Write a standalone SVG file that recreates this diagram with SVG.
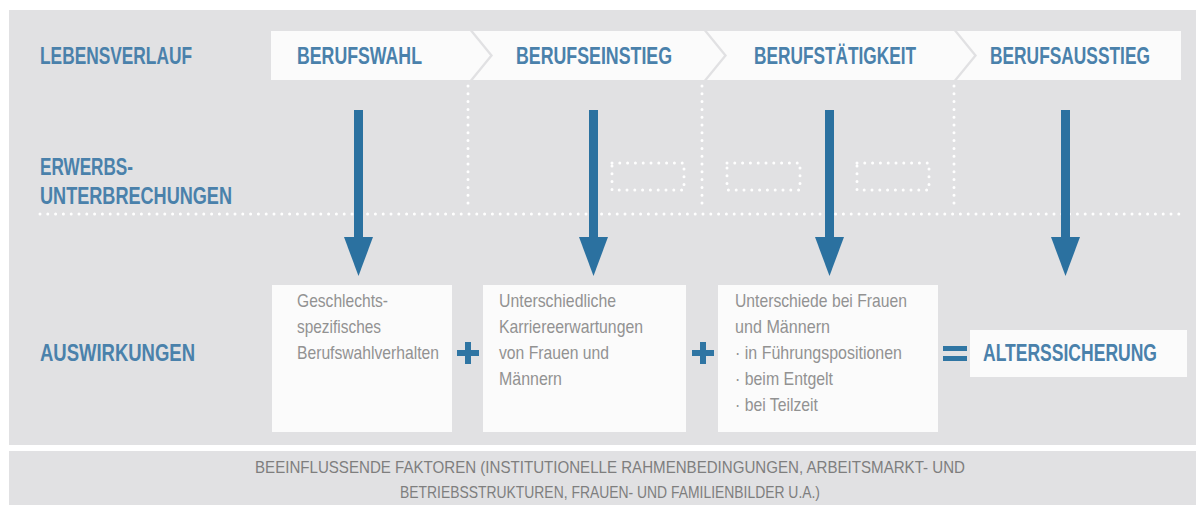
<svg xmlns="http://www.w3.org/2000/svg" width="1196" height="505" viewBox="0 0 1196 505">
<style>
.panel{fill:#e1e1e3}
.seg{fill:#fbfbfb}
.box{fill:#fbfbfb}
.head{font-family:"Liberation Sans",Arial,sans-serif;font-weight:bold;font-size:23px;fill:#4a81ab}
.body{font-family:"Liberation Sans",Arial,sans-serif;font-size:19px;fill:#929292}
.foot{font-family:"Liberation Sans",Arial,sans-serif;font-size:17px;fill:#7e7e7e}
.dots{fill:none;stroke:#ffffff;stroke-width:3;stroke-linecap:round;stroke-dasharray:0 7.8}
.arrow{fill:#2b71a0}
.op{fill:#2f75a3}
</style>
<rect width="1196" height="505" fill="#ffffff"/>
<rect class="panel" x="9" y="10" width="1187" height="435"/>
<rect class="panel" x="9" y="451" width="1187" height="54"/>

<g id="labels">
<text class="head" x="40" y="64" textLength="152" lengthAdjust="spacingAndGlyphs">LEBENSVERLAUF</text>
<text class="head" x="40" y="175" textLength="93" lengthAdjust="spacingAndGlyphs">ERWERBS-</text>
<text class="head" x="40" y="204" textLength="192" lengthAdjust="spacingAndGlyphs">UNTERBRECHUNGEN</text>
<text class="head" x="40" y="361" textLength="155" lengthAdjust="spacingAndGlyphs">AUSWIRKUNGEN</text>
</g>

<g id="seg-berufswahl">
<polygon class="seg" points="271,31 470,31 490,55.5 470,80 271,80"/>
<text class="head" x="297" y="64" textLength="125" lengthAdjust="spacingAndGlyphs">BERUFSWAHL</text>
</g>
<g id="seg-berufseinstieg">
<polygon class="seg" points="473,31 704,31 724,55.5 704,80 473,80 493,55.5"/>
<text class="head" x="516" y="64" textLength="156" lengthAdjust="spacingAndGlyphs">BERUFSEINSTIEG</text>
</g>
<g id="seg-berufstaetigkeit">
<polygon class="seg" points="707,31 954,31 974,55.5 954,80 707,80 727,55.5"/>
<text class="head" x="754" y="64" textLength="162" lengthAdjust="spacingAndGlyphs">BERUFSTÄTIGKEIT</text>
</g>
<g id="seg-berufsausstieg">
<polygon class="seg" points="957,31 1181,31 1181,80 957,80 977,55.5"/>
<text class="head" transform="translate(990,64) scale(0.75,1)" x="0" y="0" textLength="213.3" lengthAdjust="spacingAndGlyphs">BERUFSAUSSTIEG</text>
</g>

<g id="grid">
<line class="dots" x1="40" y1="214" x2="1180" y2="214"/>
<line class="dots" x1="468" y1="86" x2="468" y2="210"/>
<line class="dots" x1="702" y1="86" x2="702" y2="210"/>
<line class="dots" x1="954" y1="86" x2="954" y2="210"/>
</g>

<g id="interruptions">
<rect class="dots" x="612" y="163" width="72" height="27"/>
<rect class="dots" x="727" y="163" width="73" height="27"/>
<rect class="dots" x="857" y="163" width="72" height="27"/>
</g>

<g id="connectors">
<g class="arrow">
<rect x="354" y="110" width="9" height="130"/><polygon points="344,237 373,237 358.5,276"/>
<rect x="589" y="110" width="9" height="130"/><polygon points="579,237 608,237 593.5,276"/>
<rect x="825" y="110" width="9" height="130"/><polygon points="815,237 844,237 829.5,276"/>
<rect x="1061" y="110" width="9" height="130"/><polygon points="1051,237 1080,237 1065.5,276"/>
</g>
</g>

<g id="box-berufswahl">
<rect class="box" x="272" y="285" width="180" height="147"/>
<text class="body" x="297" y="307" textLength="91" lengthAdjust="spacingAndGlyphs">Geschlechts-</text>
<text class="body" x="297" y="333" textLength="84" lengthAdjust="spacingAndGlyphs">spezifisches</text>
<text class="body" x="297" y="359" textLength="142" lengthAdjust="spacingAndGlyphs">Berufswahlverhalten</text>
</g>
<g id="plus-1" class="op">
<rect x="457" y="350" width="22" height="6"/><rect x="465" y="342" width="6" height="22"/>
</g>
<g id="box-karriere">
<rect class="box" x="483" y="285" width="203" height="147"/>
<text class="body" x="499" y="307" textLength="117" lengthAdjust="spacingAndGlyphs">Unterschiedliche</text>
<text class="body" x="499" y="333" textLength="144" lengthAdjust="spacingAndGlyphs">Karriereerwartungen</text>
<text class="body" x="499" y="359" textLength="110" lengthAdjust="spacingAndGlyphs">von Frauen und</text>
<text class="body" x="499" y="385" textLength="63" lengthAdjust="spacingAndGlyphs">Männern</text>
</g>
<g id="plus-2" class="op">
<rect x="692" y="350" width="22" height="6"/><rect x="700" y="342" width="6" height="22"/>
</g>
<g id="box-unterschiede">
<rect class="box" x="718" y="285" width="220" height="147"/>
<text class="body" x="735" y="307" textLength="172" lengthAdjust="spacingAndGlyphs">Unterschiede bei Frauen</text>
<text class="body" x="735" y="333" textLength="95" lengthAdjust="spacingAndGlyphs">und Männern</text>
<text class="body" x="735" y="359" textLength="167" lengthAdjust="spacingAndGlyphs">· in Führungspositionen</text>
<text class="body" x="735" y="385" textLength="98" lengthAdjust="spacingAndGlyphs">· beim Entgelt</text>
<text class="body" x="735" y="411" textLength="83" lengthAdjust="spacingAndGlyphs">· bei Teilzeit</text>
</g>
<g id="equals" class="op">
<rect x="943" y="346" width="24" height="5"/><rect x="943" y="356" width="24" height="5"/>
</g>
<g id="box-alterssicherung">
<rect class="box" x="970" y="330" width="217" height="47"/>
<text class="head" transform="translate(983,361) scale(0.75,1)" x="0" y="0" textLength="232" lengthAdjust="spacingAndGlyphs">ALTERSSICHERUNG</text>
</g>

<g id="footer">
<text class="foot" x="610" y="473" text-anchor="middle" textLength="710" lengthAdjust="spacingAndGlyphs">BEEINFLUSSENDE FAKTOREN (INSTITUTIONELLE RAHMENBEDINGUNGEN, ARBEITSMARKT- UND</text>
<text class="foot" x="610" y="498" text-anchor="middle" textLength="420" lengthAdjust="spacingAndGlyphs">BETRIEBSSTRUKTUREN, FRAUEN- UND FAMILIENBILDER U.A.)</text>
</g>
</svg>
